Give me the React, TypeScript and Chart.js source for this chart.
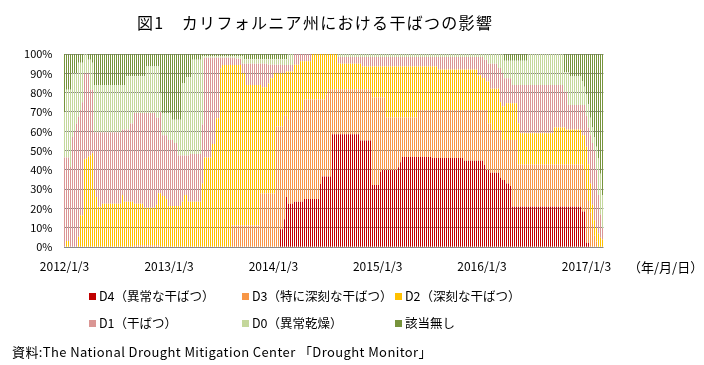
import React, { useEffect, useRef } from "react";
import { Chart, registerables } from "chart.js";

Chart.register(...registerables);

// ---- data (weekly U.S. Drought Monitor, California, cumulative % of area) ----
const START_DATE = "2012/1/3";
const xTickLabels = ["2012/1/3", "2013/1/3", "2014/1/3", "2015/1/3", "2016/1/3", "2017/1/3"];
const xAxisUnit = "（年/月/日）";
const titleText = "図1　カリフォルニア州における干ばつの影響";
const sourceText = "資料:The National Drought Mitigation Center 「Drought Monitor」";

const seriesNames = [
  "D4（異常な干ばつ）",
  "D3（特に深刻な干ばつ）",
  "D2（深刻な干ばつ）",
  "D1（干ばつ）",
  "D0（異常乾燥）",
  "該当無し",
];
const seriesColors = ["#C00000", "#F79646", "#FFC000", "#DA9694", "#C4D79B", "#77933C"];

// D0-D4 (everything except "none")
const pctD0toD4 = [
  70, 81.5, 81.5, 81.5, 90, 90, 90, 95.5, 95.5, 95.5,
  100, 100, 97, 97, 95.5, 84, 84, 84, 84, 84,
  84, 84, 84, 84, 84, 84, 84, 84, 84, 84,
  84, 88.5, 88.5, 88.5, 88.5, 88.5, 88.5, 88.5, 88.5, 88.5,
  88.5, 93.5, 93.5, 93.5, 93.5, 93.5, 93.5, 93.5, 80, 69.5,
  69.5, 69.5, 69.5, 69.5, 66, 66, 66, 66, 66, 85,
  85, 88, 88, 88, 97, 97, 97, 97, 97, 99,
  99, 99, 99, 99, 99, 99, 99, 99, 99, 99,
  99, 99, 99, 99, 99, 99, 99, 99, 99, 99,
  97.3, 97.3, 97.3, 97.3, 97.3, 97.3, 97.3, 97.3, 97.3, 97.3,
  97.3, 97.3, 97.3, 97.3, 97.3, 97.3, 97.3, 97.3, 97.3, 97.3,
  97.3, 97.3, 100, 100, 100, 100, 100, 100, 100, 100,
  100, 100, 100, 100, 100, 100, 100, 100, 100, 100,
  100, 100, 100, 100, 100, 100, 100, 100, 100, 100,
  100, 100, 100, 100, 100, 100, 100, 100, 100, 100,
  100, 100, 100, 100, 100, 100, 100, 100, 100, 100,
  100, 100, 100, 100, 100, 100, 100, 100, 100, 100,
  100, 100, 100, 100, 100, 100, 100, 100, 100, 100,
  100, 100, 100, 100, 100, 100, 100, 100, 100, 100,
  100, 100, 100, 100, 100, 100, 100, 100, 100, 100,
  100, 100, 100, 100, 100, 100, 100, 100, 100, 100,
  100, 100, 100, 100, 100, 100, 100, 100, 100, 100,
  96.5, 96.5, 96.5, 96.5, 96.5, 96.5, 96.5, 96.5, 96.5, 96.5,
  96.5, 96.5, 100, 100, 100, 100, 100, 100, 100, 100,
  100, 100, 100, 100, 100, 100, 100, 100, 100, 100,
  90.5, 90.5, 90.5, 88.4, 88.4, 88.4, 88.4, 88.4, 88.4, 86,
  83, 79, 74, 67, 62, 57, 52, 46, 38, 27,
];

// D1-D4
const pctD1toD4 = [
  46.5, 46.5, 46.5, 41.5, 57, 60, 64, 67.7, 71, 75,
  90, 90, 90, 81.5, 81.5, 59.5, 59.5, 59.5, 59.5, 59.5,
  59.5, 59.5, 59.5, 59.5, 59.5, 59.5, 59.5, 59.5, 59.5, 61,
  61, 61, 61, 64, 64, 69.5, 69.5, 69.5, 69.5, 69.5,
  69.5, 69.5, 69.5, 69.5, 69.5, 69.5, 67, 67, 70, 58,
  58, 58, 55.5, 55.5, 55.5, 54, 54, 47.5, 47.5, 47.5,
  47.5, 47.5, 47.5, 48.3, 48.3, 48.3, 48.3, 48.3, 48.3, 63.5,
  98, 98, 98, 98, 98, 98, 98, 98, 98, 98,
  98, 98, 98, 98, 98, 98, 97.5, 97.5, 97.5, 95,
  95, 95, 95, 95, 95, 95, 95, 95, 95, 95,
  95, 95, 94.5, 94.5, 94.5, 94.5, 94.5, 94.5, 94.5, 94.3,
  94.3, 94.3, 94.3, 94.3, 94.3, 100, 100, 100, 100, 100,
  100, 100, 100, 100, 100, 100, 100, 100, 100, 100,
  100, 100, 100, 100, 100, 100, 100, 98.5, 98.5, 98.5,
  98.5, 98.5, 98.5, 98.5, 98.5, 98.5, 98.5, 98.5, 98.5, 98.5,
  98.5, 98.5, 98.5, 98.5, 98.5, 98.5, 98.5, 98.5, 98.5, 98.5,
  98.5, 98.5, 98.5, 98.5, 98.5, 98.5, 98.5, 98.5, 98.5, 98.5,
  98.5, 98.5, 98.5, 98.5, 98.5, 98.5, 98.5, 98.5, 98.5, 98.5,
  98.5, 98.5, 98.5, 98.5, 98.5, 98.5, 98.5, 98.5, 98.5, 98.5,
  98.5, 98.5, 98.5, 98.5, 98.5, 98.5, 98.5, 98.5, 98.5, 98.5,
  98.5, 98.5, 98.5, 98.5, 98.5, 98.5, 98.5, 98.5, 98.5, 98.5,
  97, 97, 95, 95, 95, 95, 95, 92.7, 92.7, 90,
  87.5, 87.5, 87.5, 87.5, 84, 84, 84, 84, 84, 84,
  84, 84, 84, 84, 84, 84, 84, 84, 84, 84,
  84, 84, 84, 84, 84, 84, 84, 84, 84, 84,
  80.5, 80.5, 73.6, 73.6, 73.6, 73.6, 73.6, 73.6, 73.6, 73.6,
  73.6, 68, 62, 58, 54, 50, 40, 27, 17, 10,
];

// D2-D4
const pctD2toD4 = [
  0, 3.3, 3.3, 0, 0, 0, 0, 5.5, 16.5, 16.5,
  45.5, 46, 47, 47.5, 48.7, 30, 26, 21, 21, 22.5,
  22.5, 22.5, 22.5, 22.5, 22.5, 22.5, 22.5, 22.5, 22.5, 27,
  23.6, 23.6, 23.6, 23.6, 23.6, 22.5, 22.5, 22.5, 22.5, 22.5,
  20.5, 20.5, 20.5, 20.5, 20.5, 20.5, 22, 28, 28, 26.5,
  26.5, 25, 21.4, 21.4, 21.4, 21.4, 21.4, 21.4, 21.4, 23.6,
  27, 27, 23.6, 23.6, 23.6, 23.6, 23.6, 23.6, 23.6, 33,
  46.5, 46.5, 46.5, 46.5, 53.4, 53.4, 66.7, 66.7, 92.6, 94.3,
  94.3, 94.3, 94.3, 94.3, 94.3, 94.3, 94.3, 94.3, 94.3, 90,
  90, 84, 84, 84, 84, 84, 84, 84, 84, 82.8,
  82.8, 82.8, 84.8, 87.4, 87.4, 90, 90, 90, 90, 90,
  90, 91, 91, 91, 91, 94.5, 94.5, 94.5, 96.2, 96.2,
  96.2, 96.2, 96.2, 96.2, 100, 100, 100, 100, 100, 100,
  100, 100, 100, 100, 100, 100, 100, 95, 95, 95,
  95, 95, 95, 95, 95, 95, 95, 95, 95, 93.5,
  93.5, 93.5, 93.5, 93.5, 93.5, 93.5, 93.5, 93.5, 93.5, 93.5,
  93.5, 93.5, 93.5, 93.5, 93.5, 93.5, 93.5, 93.5, 93.5, 93.5,
  93.5, 93.5, 93.5, 93.5, 93.5, 93.5, 93.5, 93.5, 93.5, 93.5,
  93.5, 93.5, 93.5, 93.5, 93.5, 93.5, 93.5, 92, 92, 92,
  92, 92, 92, 92, 92, 92, 92, 92, 92, 92,
  92, 92, 92, 92, 92, 92, 92, 89, 89, 87.6,
  87.6, 85.8, 85.8, 82, 82, 82, 82, 82, 75, 73,
  73, 74.5, 74.5, 74.5, 74.5, 74.5, 74.5, 64, 59, 59,
  59, 59, 59, 59, 59, 59, 59, 59, 59, 59,
  59, 59, 59, 59, 59, 62, 62, 62, 62, 62,
  62, 61, 61, 61, 61, 61, 61, 61, 61, 58,
  58, 52, 43, 33, 22, 14, 10, 7, 5, 4,
];

// D3-D4
const pctD3toD4 = [
  0, 0, 0, 0, 0, 0, 0, 0, 0, 0,
  0, 0, 0, 0, 0, 0, 0, 0, 0, 0,
  0, 0, 0, 0, 0, 0, 0, 0, 0, 0,
  0, 0, 0, 0, 0, 1, 1, 1, 1, 1,
  1, 1, 1, 1, 1, 1, 1, 1, 0, 0,
  0, 0, 0, 0, 0, 0, 0, 0, 0, 0,
  0, 0, 0, 0, 0, 0, 0, 0, 0, 0,
  0, 0, 0, 0, 0, 0, 0, 0, 0, 0,
  0, 0, 0, 0, 11.3, 11.3, 11.3, 11.3, 11.3, 11.3,
  11.3, 11.3, 11.3, 11.3, 11.3, 11.3, 11.3, 11.3, 27.8, 27.8,
  27.8, 27.8, 27.8, 27.8, 27.8, 27.8, 62.5, 62.5, 62.5, 62.5,
  68, 68, 66, 71, 71, 71, 71, 71, 71, 71,
  76.5, 76.5, 76.5, 76.5, 76.5, 76.5, 76.5, 76.5, 76.5, 76.5,
  76.5, 79, 81.8, 81.8, 81.8, 81.8, 81.8, 81.8, 81.8, 81.8,
  81.8, 81.8, 81.8, 81.8, 81.8, 81.8, 81.8, 81.8, 81.8, 81.8,
  81.8, 81.8, 81.8, 81.8, 77.5, 77.5, 77.5, 77.5, 77.5, 77.5,
  77.5, 67.2, 67.2, 67.2, 67.2, 67.2, 67.2, 67.2, 67.2, 67.2,
  67.2, 67.2, 67.2, 67.2, 67.2, 67.2, 67.2, 71, 71, 71,
  71, 71, 71, 71, 71, 71, 71, 71, 71, 71,
  71, 71, 71, 71, 71, 71, 71, 71, 71, 71,
  71, 71, 71, 71, 71, 71, 71, 71, 71, 71,
  71, 71, 64, 64, 60.7, 60.7, 60.7, 60.7, 60.7, 55.5,
  55.5, 55.5, 55.5, 55.5, 55.5, 55.5, 55.5, 42.8, 42.8, 42.8,
  42.8, 42.8, 42.8, 42.8, 42.8, 42.8, 42.8, 42.8, 42.8, 42.8,
  42.8, 42.8, 42.8, 42.8, 42.8, 42.8, 42.8, 42.8, 42.8, 42.8,
  42.8, 42.8, 42.8, 42.8, 42.8, 42.8, 42.8, 42.8, 42.8, 42.8,
  40, 30, 24, 18, 12, 6, 3, 0, 0, 0,
];

// D4
const pctD4 = [
  0, 0, 0, 0, 0, 0, 0, 0, 0, 0,
  0, 0, 0, 0, 0, 0, 0, 0, 0, 0,
  0, 0, 0, 0, 0, 0, 0, 0, 0, 0,
  0, 0, 0, 0, 0, 0, 0, 0, 0, 0,
  0, 0, 0, 0, 0, 0, 0, 0, 0, 0,
  0, 0, 0, 0, 0, 0, 0, 0, 0, 0,
  0, 0, 0, 0, 0, 0, 0, 0, 0, 0,
  0, 0, 0, 0, 0, 0, 0, 0, 0, 0,
  0, 0, 0, 0, 0, 0, 0, 0, 0, 0,
  0, 0, 0, 0, 0, 0, 0, 0, 0, 0,
  0, 0, 0, 0, 0, 0, 0, 0, 9.3, 9.3,
  14.5, 26, 22.5, 22.5, 22.5, 23.6, 23.6, 23.6, 23.6, 23.6,
  25, 25, 25, 25, 25, 25, 25, 25, 32.8, 36.6,
  36.6, 36.6, 36.6, 36.6, 58.5, 58.5, 58.5, 58.5, 58.5, 58.5,
  58.5, 58.5, 58.5, 58.5, 58.5, 58.5, 58.5, 58.5, 55.3, 55.3,
  55.3, 55.3, 55.3, 55.3, 32.2, 32.2, 32.2, 32.2, 39, 40,
  40, 40, 40, 40, 40, 40, 40, 41.4, 44, 46.7,
  46.7, 46.7, 46.7, 46.7, 46.7, 46.7, 46.7, 46.7, 46.7, 46.7,
  46.7, 46.7, 46.7, 46.7, 46.2, 46.2, 46.2, 46.2, 46.2, 46.2,
  46.2, 46.2, 46.2, 46.2, 46.2, 46.2, 46.2, 46.2, 46.2, 46.2,
  44.8, 44.8, 44.8, 44.8, 44.8, 44.8, 44.8, 44.8, 44.8, 44.8,
  42.6, 40, 40, 38.6, 38.6, 38.6, 38.6, 38.6, 36, 34.8,
  34.8, 33, 33, 31.7, 21, 21, 21, 21, 21, 21,
  21, 21, 21, 21, 21, 21, 21, 21, 21, 21,
  21, 21, 21, 21, 21, 21, 21, 21, 21, 21,
  21, 21, 21, 21, 21, 21, 21, 21, 21, 18.5,
  18.5, 2.4, 2.4, 0, 0, 0, 0, 0, 0, 0,
];

// ---- layout / style ----
const FONT = "'Noto Sans CJK JP', 'Noto Sans', sans-serif";
const PLOT_LEFT = 63.5;
const PLOT_RIGHT = 603.5;
const PLOT_TOP = 54;
const PLOT_BOTTOM = 247.3;
const W = 704;
const H = 365;

function toDay(s: string): number {
  const [y, m, d] = s.split("/").map(Number);
  return Math.round(Date.UTC(y, m - 1, d) / 86400000);
}

export default function App() {
  const ref = useRef<HTMLCanvasElement>(null);

  useEffect(() => {
    const canvas = ref.current;
    if (!canvas) return;
    const day0 = toDay(START_DATE);
    const n = pctD4.length;
    const xDays = pctD4.map((_, i) => i * 7);
    const tickDays = xTickLabels.map((l) => toDay(l) - day0);

    const layers = [
      pctD4,
      pctD3toD4.map((v, i) => v - pctD4[i]),
      pctD2toD4.map((v, i) => v - pctD3toD4[i]),
      pctD1toD4.map((v, i) => v - pctD2toD4[i]),
      pctD0toD4.map((v, i) => v - pctD1toD4[i]),
      pctD0toD4.map((v) => 100 - v),
    ];

    const chart = new Chart(canvas, {
      type: "bar",
      data: {
        datasets: layers.map((vals, k) => ({
          label: seriesNames[k],
          data: vals.map((v, i) => ({ x: xDays[i], y: v })),
          backgroundColor: seriesColors[k],
          borderWidth: 0,
          barThickness: 1,
          inflateAmount: 0,
        })),
      } as any,
      options: {
        animation: false,
        responsive: false,
        maintainAspectRatio: false,
        events: [],
        layout: { padding: { left: 0, right: W - PLOT_RIGHT, top: PLOT_TOP, bottom: 0 } },
        plugins: {
          legend: { display: false },
          title: { display: false },
          tooltip: { enabled: false },
        },
        scales: {
          x: {
            type: "linear",
            stacked: true,
            offset: false,
            min: -3.5,
            max: n * 7 - 3.5,
            grid: { display: false, drawTicks: false, offset: false },
            border: { display: false },
            afterBuildTicks: (s: any) => {
              s.ticks = tickDays.map((v) => ({ value: v }));
            },
            afterFit: (s: any) => {
              s.height = H - PLOT_BOTTOM;
            },
            ticks: {
              autoSkip: false,
              maxRotation: 0,
              minRotation: 0,
              padding: 12,
              color: "#000",
              font: { family: FONT, size: 12 },
              callback: (_v: any, idx: number) => xTickLabels[idx],
            },
          },
          y: {
            stacked: true,
            min: 0,
            max: 100,
            grid: { color: "#8a8a8a", lineWidth: 1, drawTicks: false },
            border: { display: false },
            afterFit: (s: any) => {
              s.width = PLOT_LEFT;
            },
            ticks: {
              stepSize: 10,
              padding: 11,
              color: "#000",
              font: { family: FONT, size: 11 },
              callback: (v: any) => `${v}%`,
            },
          },
        },
      } as any,
    });
    return () => chart.destroy();
  }, []);

  const legendCols = [89, 242, 395];
  const legendRows = [296, 323];

  return (
    <div style={{ position: "absolute", left: 0, top: 0, width: W, height: H, background: "#fff", fontFamily: FONT, color: "#000" }}>
      <canvas ref={ref} width={W} height={H} style={{ position: "absolute", left: 0, top: 0, width: W, height: H }} />
      <div style={{ position: "absolute", left: 137, top: 12, fontSize: 16, letterSpacing: 1.3, lineHeight: "20px", whiteSpace: "nowrap" }}>
        {titleText}
      </div>
      <div style={{ position: "absolute", left: 628, top: 259, fontSize: 13, lineHeight: "16px", whiteSpace: "nowrap" }}>
        {xAxisUnit}
      </div>
      {seriesNames.map((name, k) => (
        <div
          key={name}
          style={{
            position: "absolute",
            left: legendCols[k % 3],
            top: legendRows[Math.floor(k / 3)] - 8,
            height: 16,
            display: "flex",
            alignItems: "center",
            fontSize: 12.5,
            whiteSpace: "nowrap",
          }}
        >
          <span style={{ display: "inline-block", width: 7, height: 7, background: seriesColors[k], marginRight: 3 }} />
          <span style={{ lineHeight: "16px" }}>{name}</span>
        </div>
      ))}
      <div style={{ position: "absolute", left: 12, top: 343, fontSize: 13, letterSpacing: 0.4, lineHeight: "18px", whiteSpace: "nowrap" }}>
        {sourceText}
      </div>
    </div>
  );
}
